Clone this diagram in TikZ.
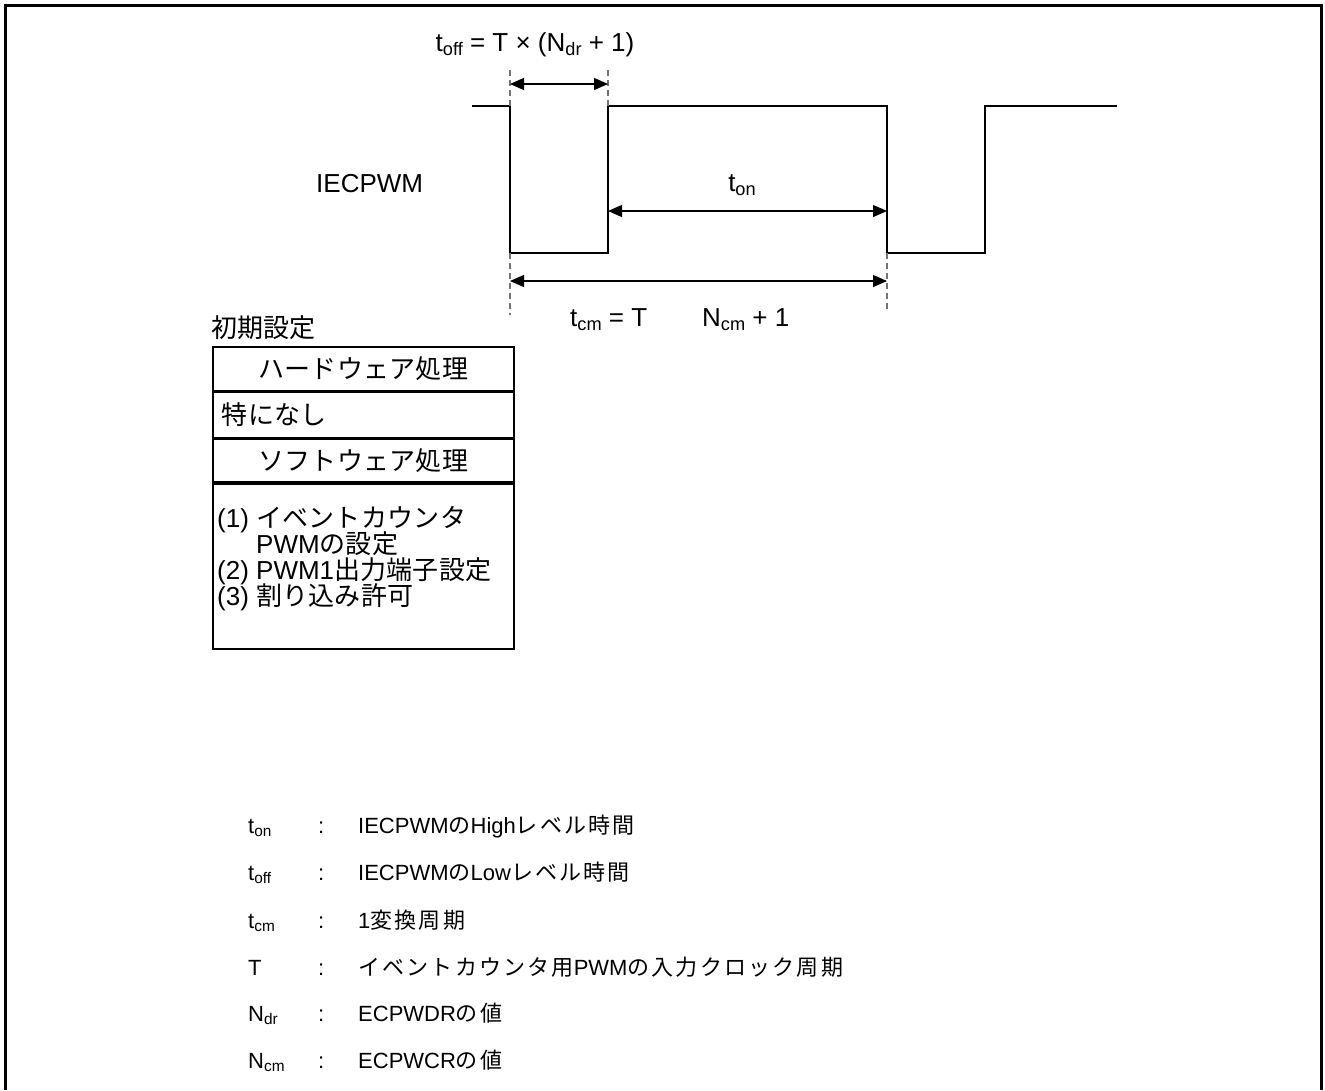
\documentclass[tikz,border=0pt]{standalone}
\usepackage{fontspec}
\usepackage{graphicx}
\setmainfont{Liberation Sans}
\newfontfamily\jp{Noto Sans CJK JP}[LetterSpace=1]
\newfontfamily\jpl{Noto Sans CJK JP}[LetterSpace=10]
\usetikzlibrary{arrows.meta}
\newcommand\J[1]{{\jp #1}}
\newcommand\JL[1]{{\jpl #1}}
\newcommand\sbs[1]{\raisebox{-0.3ex}{\scalebox{0.7}{#1}}}
\tikzset{
  wave/.style={line width=2.8pt, line join=miter},
  guide/.style={draw=black!55, line width=1.1pt, dash pattern=on 6pt off 4pt},
  dim/.style={line width=1.2pt, {Triangle[length=14pt,width=12pt]}-{Triangle[length=14pt,width=12pt]}},
  lbl/.style={inner sep=0pt, font=\fontsize{26}{30}\selectfont},
  swline/.style={lbl, anchor=base west},
  leg/.style={inner sep=0pt, anchor=base west, font=\fontsize{22}{26}\selectfont},
  cell/.style={draw, line width=1.7pt, minimum width=301pt, inner sep=0pt, anchor=north west, font=\fontsize{26}{30}\selectfont},
}
\begin{document}
\begin{tikzpicture}[x=1pt,y=-1pt]
\useasboundingbox (0,0) rectangle (1325,1090);
% outer frame
\draw[line width=3pt] (5,1090) -- (5,5) -- (1321,5) -- (1321,1090);
% waveform
\coordinate (w0) at (472,106);
\coordinate (f1t) at (510,106); \coordinate (f1b) at (510,253);
\coordinate (r1b) at (608,253); \coordinate (r1t) at (608,106);
\coordinate (f2t) at (887,106); \coordinate (f2b) at (887,253);
\coordinate (r2b) at (985,253); \coordinate (r2t) at (985,106);
\coordinate (w1) at (1117,106);
\draw[wave] (w0) -- (f1t) -- (f1b) -- (r1b) -- (r1t) -- (f2t) -- (f2b) -- (r2b) -- (r2t) -- (w1);
% guides
\coordinate (g1a) at (510,70); \coordinate (g1b) at (510,315);
\coordinate (g2a) at (608,70);
\coordinate (g3b) at (887,310);
\draw[guide] (g1a) -- (f1t);
\draw[guide] (f1b) -- (g1b);
\draw[guide] (g2a) -- (r1t);
\draw[guide] (f2b) -- (g3b);
% dimension arrows
\coordinate (a1l) at (510,84); \coordinate (a1r) at (608,84);
\coordinate (a2l) at (608,211); \coordinate (a2r) at (887,211);
\coordinate (a3l) at (510,281); \coordinate (a3r) at (887,281);
\draw[dim] (a1l) -- (a1r);
\draw[dim] (a2l) -- (a2r);
\draw[dim] (a3l) -- (a3r);
% labels
\node[lbl] (toff) at (535,45) {t\sbs{off} = T × (N\sbs{dr} + 1)};
\node[lbl] (ton) at (742,185) {t\sbs{on}};
\node[lbl, anchor=west] (sig) at (316,184) {IECPWM};
\node[lbl, anchor=west] (tcm) at (570,320) {t\sbs{cm} = T};
\node[lbl, anchor=west] (ncm) at (702,320) {N\sbs{cm} + 1};
% initial settings box
\node[lbl, anchor=west] (init) at (211,328) {\J{初期設定}};
\node[cell, minimum height=44pt] (hw) at (212,346) {\J{ハードウェア処理}};
\node[cell, minimum height=45pt, anchor=north west, align=left, text width=283pt, inner xsep=9pt] (hwb) at (hw.south west) {\J{特になし}};
\node[cell, minimum height=43pt] (sw) at (hwb.south west) {\J{ソフトウェア処理}};
\node[cell, minimum height=165pt] (swb) at (sw.south west) {};
\node[swline] (sw1) at (217,527) {(1) \J{イベントカウンタ}};
\node[swline] (sw2) at (217,553) {\phantom{(1) }PWM\J{の設定}};
\node[swline] (sw3) at (217,579) {(2) PWM1\J{出力端子設定}};
\node[swline] (sw4) at (217,605) {(3) \J{割り込み許可}};
% legend
\node[leg] (s1) at (248,833) {t\sbs{on}};
\node[leg] (c1) at (318,833) {:};
\node[leg] (d1) at (358,833) {IECPWM\JL{の}High\JL{レベル時間}};
\node[leg] (s2) at (248,880) {t\sbs{off}};
\node[leg] (c2) at (318,880) {:};
\node[leg] (d2) at (358,880) {IECPWM\JL{の}Low\JL{レベル時間}};
\node[leg] (s3) at (248,928) {t\sbs{cm}};
\node[leg] (c3) at (318,928) {:};
\node[leg] (d3) at (358,928) {1\JL{変換周期}};
\node[leg] (s4) at (248,975) {T};
\node[leg] (c4) at (318,975) {:};
\node[leg] (d4) at (358,975) {\JL{イベントカウンタ用}PWM\JL{の入力クロック周期}};
\node[leg] (s5) at (248,1021) {N\sbs{dr}};
\node[leg] (c5) at (318,1021) {:};
\node[leg] (d5) at (358,1021) {ECPWDR\JL{の値}};
\node[leg] (s6) at (248,1068) {N\sbs{cm}};
\node[leg] (c6) at (318,1068) {:};
\node[leg] (d6) at (358,1068) {ECPWCR\JL{の値}};
\end{tikzpicture}
\end{document}
